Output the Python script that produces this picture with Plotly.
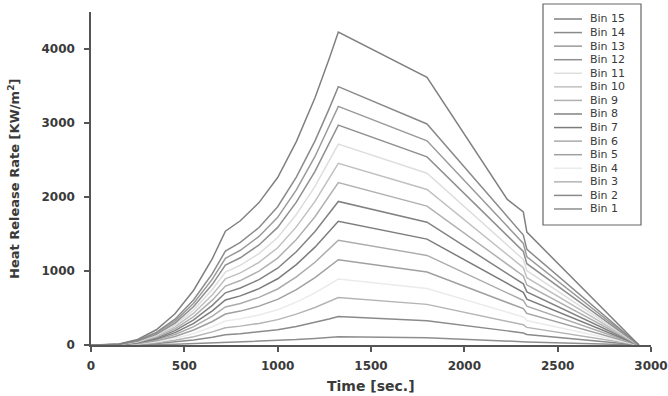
import plotly.graph_objects as go

# ---- data ----
time_s = [0, 50, 150, 250, 350, 450, 550, 650, 720, 800, 900, 1000, 1100, 1200, 1275, 1325,
          1800, 2230, 2316, 2335, 2935]

bin_names = ["Bin 1", "Bin 2", "Bin 3", "Bin 4", "Bin 5", "Bin 6", "Bin 7", "Bin 8",
             "Bin 9", "Bin 10", "Bin 11", "Bin 12", "Bin 13", "Bin 14", "Bin 15"]

bin1 = [0, 0, 0, 2, 6, 11, 20, 31, 41, 45, 51, 60, 73, 89, 103, 113, 97, 56, 48, 42, 0]
bin2 = [0, 0, 1, 7, 19, 38, 67, 106, 140, 152, 175, 205, 250, 303, 351, 384, 329, 191, 163, 142, 0]
bin3 = [0, 0, 2, 11, 31, 64, 112, 177, 233, 255, 292, 343, 417, 507, 586, 642, 549, 319, 273, 238, 0]
bin4 = [0, 0, 3, 16, 43, 89, 156, 246, 324, 354, 405, 477, 579, 704, 813, 891, 762, 443, 379, 330, 0]
bin5 = [0, 0, 4, 20, 56, 115, 202, 318, 419, 458, 525, 617, 749, 911, 1053, 1153, 986, 573, 491, 427, 0]
bin6 = [0, 0, 4, 25, 69, 142, 248, 391, 514, 562, 644, 757, 920, 1118, 1292, 1415, 1211, 703, 602, 524, 0]
bin7 = [0, 0, 5, 30, 81, 167, 293, 462, 608, 664, 761, 895, 1087, 1322, 1527, 1673, 1431, 831, 712, 619, 0]
bin8 = [0, 0, 6, 34, 94, 194, 340, 535, 705, 770, 883, 1038, 1261, 1533, 1771, 1940, 1660, 964, 826, 718, 0]
bin9 = [0, 0, 7, 39, 107, 219, 384, 606, 797, 871, 998, 1174, 1426, 1733, 2003, 2194, 1877, 1090, 934, 812, 0]
bin10 = [0, 0, 8, 43, 120, 246, 430, 678, 893, 975, 1117, 1314, 1596, 1940, 2242, 2456, 2101, 1221, 1045, 909, 0]
bin11 = [0, 0, 8, 48, 132, 271, 475, 749, 986, 1077, 1235, 1452, 1764, 2144, 2478, 2714, 2322, 1349, 1155, 1004, 0]
bin12 = [0, 0, 9, 53, 145, 297, 520, 820, 1080, 1179, 1352, 1589, 1931, 2347, 2713, 2971, 2542, 1477, 1264, 1099, 0]
bin13 = [0, 0, 10, 57, 157, 323, 564, 890, 1172, 1280, 1467, 1725, 2096, 2548, 2944, 3225, 2759, 1603, 1373, 1193, 0]
bin14 = [0, 0, 11, 62, 170, 349, 611, 964, 1269, 1386, 1588, 1868, 2269, 2758, 3187, 3491, 2987, 1735, 1486, 1292, 0]
bin15 = [0, 0, 13, 75, 206, 423, 740, 1167, 1537, 1679, 1924, 2263, 2749, 3341, 3861, 4229, 3618, 1967, 1800, 1525, 0]

series = [bin1, bin2, bin3, bin4, bin5, bin6, bin7, bin8, bin9, bin10, bin11, bin12, bin13, bin14, bin15]

x_ticks = [0, 500, 1000, 1500, 2000, 2500, 3000]
y_ticks = [0, 1000, 2000, 3000, 4000]

x_title = "Time [sec.]"
y_title = "Heat Release Rate [KW/m<sup>2</sup>]"

# ---- styling ----
colors = ["#8e8e8e", "#8a8a8a", "#b4b4b4", "#ebebeb", "#a0a0a0", "#ababab", "#7c7c7c", "#828282",
          "#b0b0b0", "#c0c0c0", "#dedede", "#8f8f8f", "#9a9a9a", "#8a8a8a", "#808080"]

FONT = "DejaVu Sans"
TXT = "#3a3a3a"

fig = go.Figure()
for name, vals, col in zip(bin_names, series, colors):
    fig.add_trace(go.Scatter(x=time_s, y=vals, mode="lines", name=name,
                             line=dict(color=col, width=1.5), showlegend=False))

# plot area geometry (pixels)
L, R, T, B = 91, 651, 12, 345
W, H = 668, 396

fig.update_layout(
    width=W, height=H,
    margin=dict(l=L, r=W - R, t=T, b=H - B),
    paper_bgcolor="white", plot_bgcolor="white",
    font=dict(family=FONT, size=13, color=TXT),
    xaxis=dict(range=[0, 3000], tickvals=x_ticks, showgrid=False, zeroline=False,
               showline=True, linecolor="#555", linewidth=1.5,
               ticks="outside", ticklen=5, tickcolor="#555", tickwidth=1.5,
               ticklabelstandoff=4, automargin=False,
               tickfont=dict(family=FONT, size=12, color=TXT, weight="bold")),
    yaxis=dict(range=[0, 4500], tickvals=y_ticks, showgrid=False, zeroline=False,
               showline=True, linecolor="#555", linewidth=1.5,
               ticks="outside", ticklen=5, tickcolor="#555", tickwidth=1.5,
               ticklabelstandoff=7, automargin=False,
               tickfont=dict(family=FONT, size=12, color=TXT, weight="bold")),
)

# helpers: pixel -> paper coordinates
def px_x(p):
    return (p - L) / (R - L)

def px_y(p):
    return (B - p) / (B - T)

# axis titles
fig.add_annotation(xref="paper", yref="paper", x=px_x(371), y=px_y(386), text=x_title,
                   showarrow=False, xanchor="center", yanchor="middle",
                   font=dict(family=FONT, size=14, color=TXT, weight="bold"))
fig.add_annotation(xref="paper", yref="paper", x=px_x(14), y=px_y(179), text=y_title,
                   textangle=-90, showarrow=False, xanchor="center", yanchor="middle",
                   font=dict(family=FONT, size=13, color=TXT, weight="bold"))

# custom compact legend
fig.add_shape(type="rect", xref="paper", yref="paper",
              x0=px_x(543), x1=px_x(641), y0=px_y(225), y1=px_y(4),
              line=dict(color="#666", width=1.2), fillcolor="white", layer="above")

row_top, row_step = 19, 13.57
for i, (name, col) in enumerate(zip(reversed(bin_names), reversed(colors))):
    yy = px_y(row_top + i * row_step)
    fig.add_shape(type="line", xref="paper", yref="paper",
                  x0=px_x(554), x1=px_x(582), y0=yy, y1=yy,
                  line=dict(color=col, width=1.5), layer="above")
    fig.add_annotation(xref="paper", yref="paper", x=px_x(588), y=yy, text=name,
                       showarrow=False, xanchor="left", yanchor="middle",
                       font=dict(family=FONT, size=11, color=TXT))

fig.write_html("out.html")
